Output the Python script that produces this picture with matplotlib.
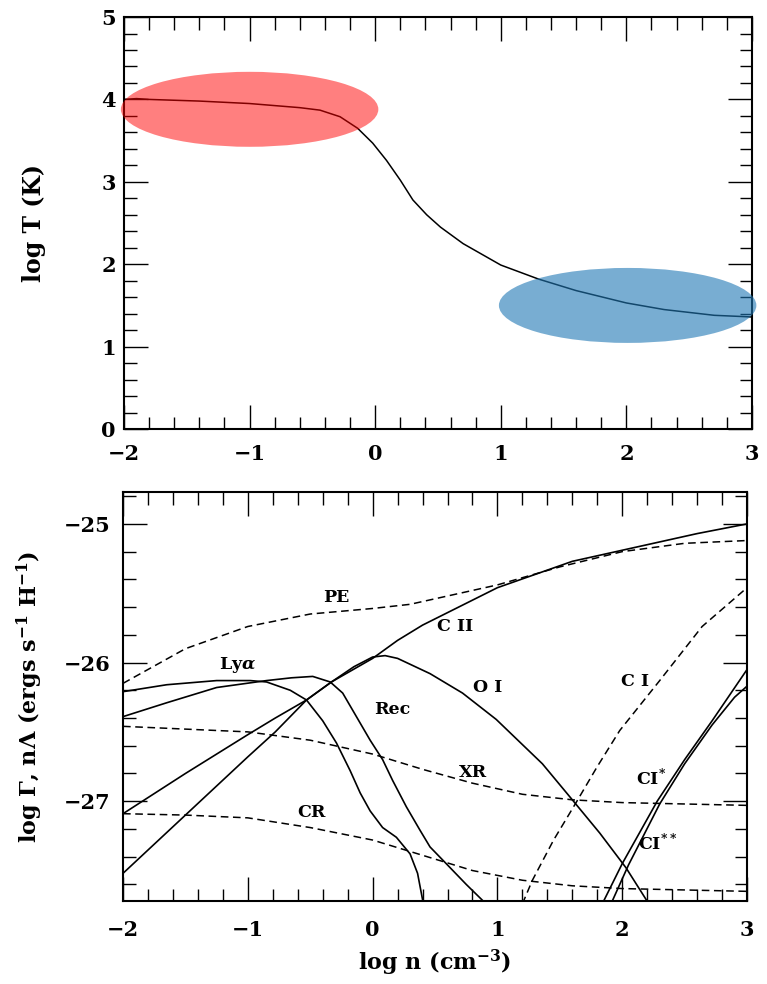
import matplotlib
matplotlib.use("Agg")
import matplotlib.pyplot as plt
from matplotlib.patches import Ellipse
from matplotlib.ticker import MultipleLocator

plt.rcParams['font.family'] = ['DejaVu Serif']
plt.rcParams['font.weight'] = 'bold'
plt.rcParams['axes.labelweight'] = 'bold'
plt.rcParams['mathtext.fontset'] = 'custom'
plt.rcParams['mathtext.rm'] = 'DejaVu Serif:bold'
plt.rcParams['mathtext.it'] = 'DejaVu Serif:italic:bold'
plt.rcParams['mathtext.default'] = 'rm'

# top panel: temperature vs density
logn_T = [-2.0, -1.9, -1.8, -1.4, -1.0, -0.6, -0.44, -0.28, -0.14, -0.02, 0.09, 0.2,
          0.3, 0.41, 0.52, 0.7, 1.0, 1.3, 1.6, 2.0, 2.3, 2.7, 3.0]
logT = [4.0, 4.01, 4.0, 3.98, 3.95, 3.9, 3.87, 3.79, 3.65, 3.47, 3.26, 3.02,
        2.78, 2.6, 2.45, 2.25, 1.99, 1.82, 1.68, 1.53, 1.45, 1.38, 1.36]

# bottom panel: heating (dashed) and cooling (solid) rates
pe_x = [-2.0, -1.5, -1.0, -0.5, 0.0, 0.3, 0.6, 1.0, 1.5, 2.0, 2.5, 3.0]
pe_y = [-26.15, -25.9, -25.74, -25.65, -25.61, -25.58, -25.52, -25.44, -25.31, -25.2, -25.14, -25.12]

xr_x = [-2.0, -1.5, -1.0, -0.5, 0.0, 0.4, 0.8, 1.2, 1.6, 2.0, 2.5, 3.0]
xr_y = [-26.46, -26.48, -26.5, -26.56, -26.66, -26.77, -26.87, -26.95, -26.99, -27.01, -27.02, -27.03]

cr_x = [-2.0, -1.5, -1.0, -0.5, 0.0, 0.4, 0.8, 1.2, 1.6, 2.0, 2.5, 3.0]
cr_y = [-27.09, -27.1, -27.12, -27.19, -27.28, -27.39, -27.5, -27.57, -27.61, -27.63, -27.64, -27.65]

ci_x = [1.2, 1.28, 1.45, 1.63, 1.8, 1.98, 2.3, 2.64, 3.0]
ci_y = [-27.74, -27.57, -27.28, -27.01, -26.75, -26.49, -26.13, -25.74, -25.46]

lya_x = [-2.0, -1.65, -1.25, -0.98, -0.85, -0.66, -0.53, -0.4, -0.29, -0.18, -0.1, -0.02,
         0.08, 0.19, 0.3, 0.36, 0.4, 0.41]
lya_y = [-26.21, -26.16, -26.13, -26.13, -26.14, -26.2, -26.27, -26.42, -26.58, -26.78, -26.94, -27.07,
         -27.19, -27.26, -27.38, -27.52, -27.71, -27.75]

rec_x = [-2.0, -1.65, -1.25, -0.85, -0.65, -0.48, -0.34, -0.24, -0.13, -0.02, 0.08, 0.16,
         0.27, 0.38, 0.46, 0.6, 0.75, 0.92]
rec_y = [-26.39, -26.29, -26.18, -26.13, -26.11, -26.1, -26.14, -26.22, -26.39, -26.56, -26.7, -26.85,
         -27.04, -27.21, -27.33, -27.46, -27.6, -27.75]

cii_x = [-2.0, -1.5, -1.0, -0.78, -0.53, -0.33, 0.0, 0.2, 0.4, 0.6, 1.0, 1.6, 2.1, 2.6, 3.0]
cii_y = [-27.09, -26.8, -26.52, -26.4, -26.27, -26.14, -25.97, -25.84, -25.73, -25.64, -25.46,
         -25.27, -25.17, -25.07, -25.0]

oi_x = [-2.0, -1.5, -1.0, -0.78, -0.53, -0.33, -0.15, 0.0, 0.1, 0.2, 0.46, 0.72, 0.99,
        1.36, 1.6, 1.82, 2.03, 2.22]
oi_y = [-27.52, -27.1, -26.68, -26.5, -26.27, -26.14, -26.03, -25.96, -25.95, -25.97, -26.08, -26.22, -26.41,
        -26.73, -26.99, -27.23, -27.48, -27.75]

ci1_x = [1.84, 2.0, 2.28, 2.5, 2.72, 3.0]
ci1_y = [-27.74, -27.45, -27.0, -26.7, -26.42, -26.05]

ci2_x = [1.91, 2.05, 2.3, 2.5, 2.72, 2.9, 3.0]
ci2_y = [-27.74, -27.46, -27.02, -26.73, -26.45, -26.25, -26.17]

labels = ['PE', r'Ly$\it{\alpha}$', 'Rec', 'C II', 'O I', 'C I', 'XR', 'CR', r'CI$^{*}$', r'CI$^{**}$']
label_x = [-0.29, -1.08, 0.16, 0.66, 0.92, 2.1, 0.8, -0.49, 2.23, 2.28]
label_y = [-25.53, -26.02, -26.34, -25.74, -26.18, -26.14, -26.79, -27.08, -26.83, -27.3]


def style_axes(ax, xpad, ypad):
    ax.xaxis.set_major_locator(MultipleLocator(1))
    ax.xaxis.set_minor_locator(MultipleLocator(0.2))
    ax.yaxis.set_major_locator(MultipleLocator(1))
    ax.yaxis.set_minor_locator(MultipleLocator(0.2))
    ax.tick_params(which='both', direction='in', top=True, right=True, width=1.0, labelsize=15)
    ax.tick_params(which='major', length=17)
    ax.tick_params(which='minor', length=9)
    ax.tick_params(axis='x', pad=xpad)
    ax.tick_params(axis='y', pad=ypad)
    for s in ax.spines.values():
        s.set_linewidth(1.5)


fig = plt.figure(figsize=(7.67, 9.84), dpi=100)

ax1 = fig.add_axes([0.1617, 0.564, 0.8187, 0.4187])
ax1.plot(logn_T, logT, color='black', lw=1.1)
ax1.add_patch(Ellipse((-1.0, 3.88), 2.05, 0.91, color='red', alpha=0.5, lw=0, clip_on=False, zorder=3))
ax1.add_patch(Ellipse((2.01, 1.50), 2.05, 0.91, color='#1f77b4', alpha=0.6, lw=0, clip_on=False, zorder=3))
ax1.set_xlim(-2, 3)
ax1.set_ylim(0, 5)
style_axes(ax1, 11, 6)
ax1.set_ylabel('log T (K)', fontsize=17)
ax1.yaxis.set_label_coords(-0.125, 0.5)

ax2 = fig.add_axes([0.1604, 0.0843, 0.8136, 0.4157])
dash = (0, (5, 3))
for xs, ys in [(pe_x, pe_y), (xr_x, xr_y), (cr_x, cr_y), (ci_x, ci_y)]:
    ax2.plot(xs, ys, color='black', lw=1.1, ls=dash)
for xs, ys in [(lya_x, lya_y), (rec_x, rec_y), (cii_x, cii_y), (oi_x, oi_y), (ci1_x, ci1_y), (ci2_x, ci2_y)]:
    ax2.plot(xs, ys, color='black', lw=1.2)
for t, lx, ly in zip(labels, label_x, label_y):
    ax2.text(lx, ly, t, ha='center', va='center', fontsize=12.5, fontweight='bold')
ax2.set_xlim(-2, 3)
ax2.set_ylim(-27.72, -24.77)
style_axes(ax2, 14, 9)
ax2.set_ylabel(r'log $\Gamma$, n$\Lambda$ (ergs s$^{-1}$ H$^{-1}$)', fontsize=16)
ax2.yaxis.set_label_coords(-0.125, 0.5)
ax2.set_xlabel(r'log n (cm$^{-3}$)', fontsize=16)
ax2.xaxis.set_label_coords(0.5, -0.115)

fig.savefig('out.png', dpi=100)
